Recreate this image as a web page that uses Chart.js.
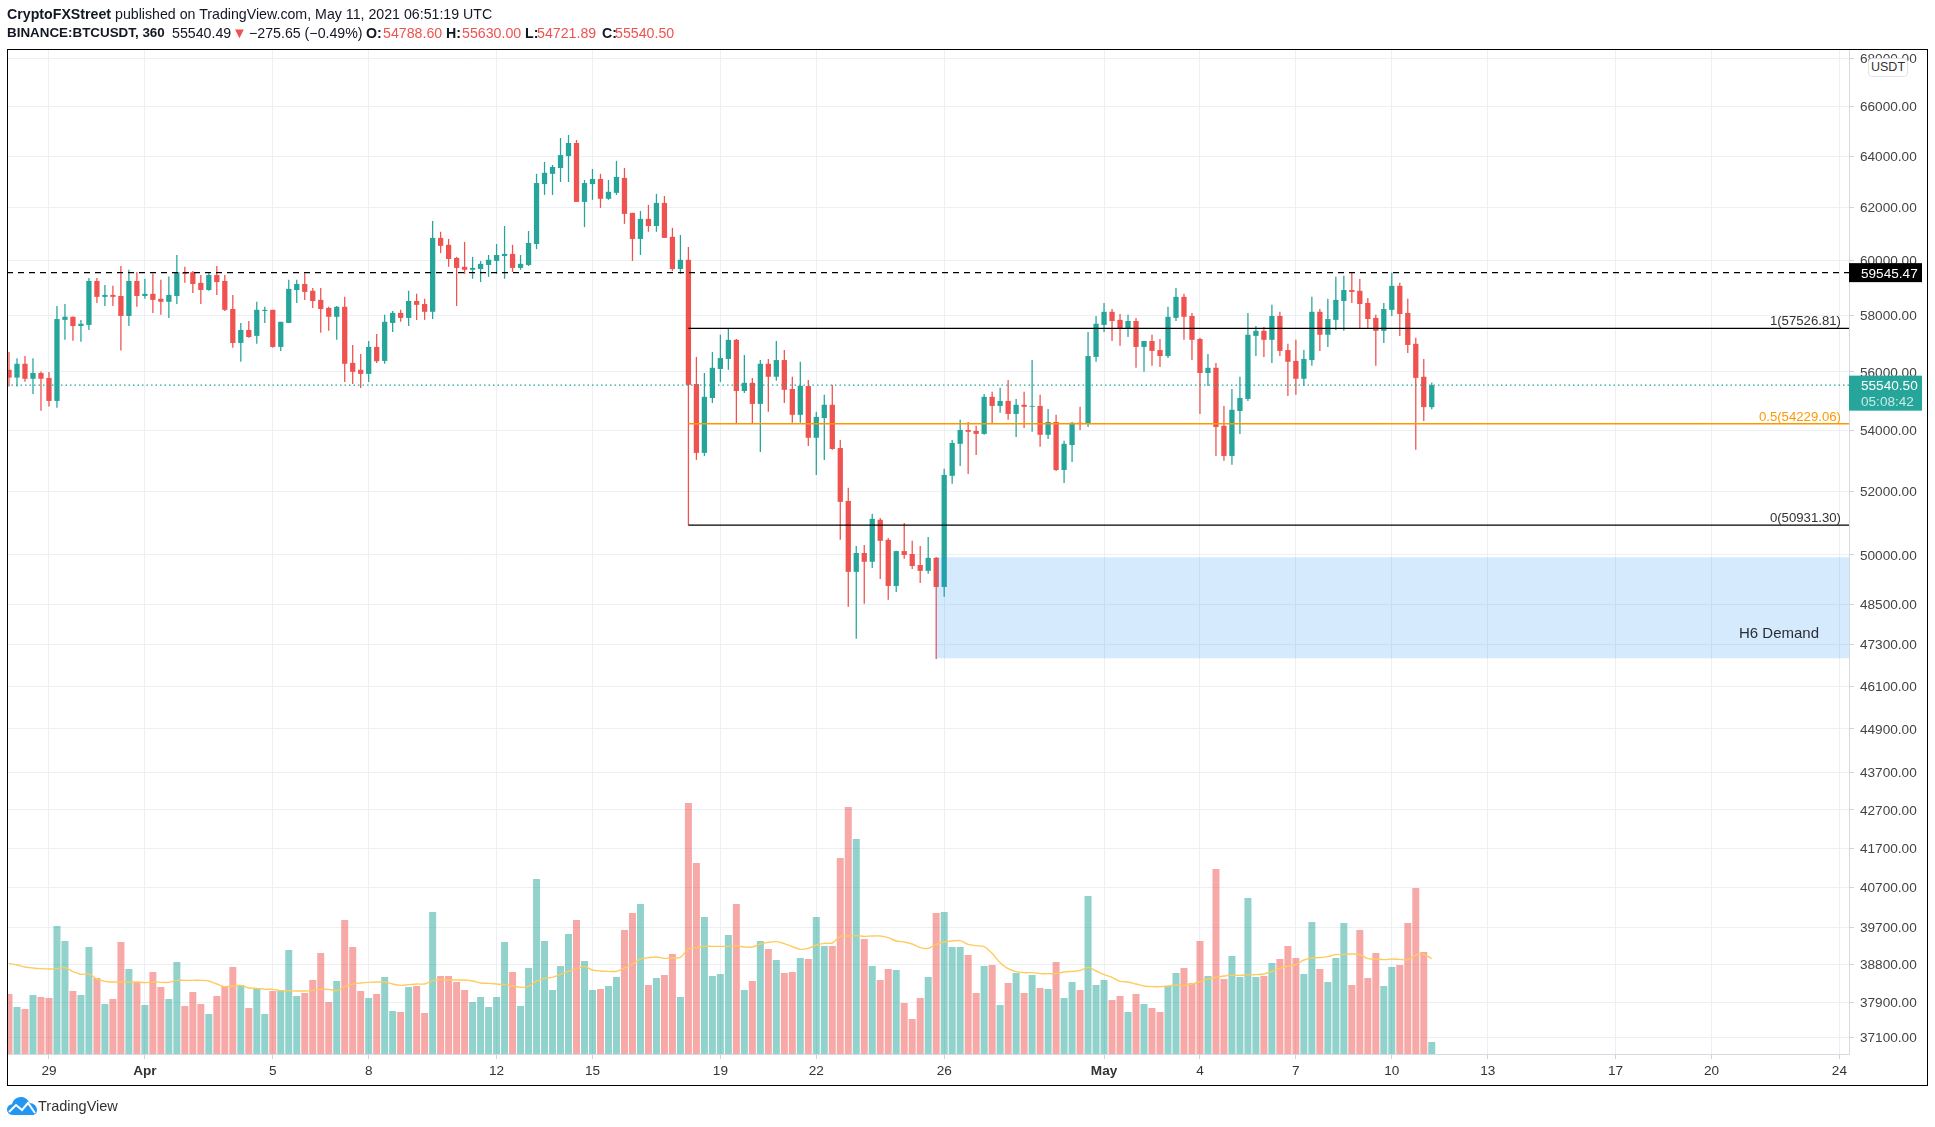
<!DOCTYPE html>
<html><head><meta charset="utf-8">
<style>
html,body{margin:0;padding:0;background:#fff;overflow:hidden}
#wrap{position:relative;width:1935px;height:1127px;font-family:"Liberation Sans",Arial,sans-serif;color:#131722}
canvas{position:absolute;left:0;top:0}
#frame{position:absolute;left:7px;top:49px;width:1921px;height:1037px;border:1px solid #000;box-sizing:border-box;pointer-events:none}
.hd{position:absolute;left:7px;font-size:14.2px;white-space:nowrap;line-height:16px}
.hd b{font-weight:700}
.s{position:absolute;top:0;white-space:nowrap}
.r{color:#ef5350}
#usdt{position:absolute;left:1868px;top:58px;width:40px;height:19px;background:#fff;border:1px solid #e0e3eb;border-radius:4px;box-sizing:border-box;font-size:12.5px;line-height:17px;text-align:center;color:#333}
#tv{position:absolute;left:38px;top:1098px;font-size:14.5px;line-height:16px;color:#333}
#logo{position:absolute;left:7px;top:1097px}
</style></head><body>
<div id="wrap">
<canvas id="c" width="1935" height="1127"></canvas>
<div id="frame"></div>
<div class="hd" style="top:6px"><b>CryptoFXStreet</b> published on TradingView.com, May 11, 2021 06:51:19 UTC</div>
<div class="hd" style="top:25px;height:16px;width:700px">
<b class="s" style="left:0;font-size:13.4px">BINANCE:BTCUSDT, 360</b>
<span class="s" style="left:165px">55540.49</span>
<span class="s r" style="left:225px;font-size:15px">▼</span>
<span class="s" style="left:242px">−275.65 (−0.49%)</span>
<b class="s" style="left:359px">O:</b><span class="s r" style="left:376px">54788.60</span>
<b class="s" style="left:439px">H:</b><span class="s r" style="left:455px">55630.00</span>
<b class="s" style="left:518px">L:</b><span class="s r" style="left:530px">54721.89</span>
<b class="s" style="left:595px">C:</b><span class="s r" style="left:608px">55540.50</span>
</div>
<div id="usdt">USDT</div>
<svg id="logo" width="30" height="18" viewBox="0 0 30 18"><path d="M6 18C2 18 0 15 0 12.500C0 9.500 2 7.500 5 7.200C6 3 9.500 0 14 0C18 0 21 2.500 22.500 6C26.500 6 30 9 30 13C30 16 28 18 25 18Z" fill="#2196f3"/><path d="M2 15L9 8L15 13L21 6L28 16" fill="none" stroke="#fff" stroke-width="2"/></svg>
<div id="tv">TradingView</div>
</div>
<script src="https://cdn.jsdelivr.net/npm/chart.js@4/dist/chart.umd.min.js"></script>
<script>
const opens=[56070,55800,56280,55760,55960,55790,55000,57830,57940,57610,
57650,59240,58660,58730,58690,57970,59240,58690,58770,58590,
58480,58690,59560,59560,59170,58910,59460,59240,58220,57010,
57470,57260,58150,58190,56870,57720,58910,59130,58880,58550,
58260,57940,58300,56310,56070,55930,56870,56380,57720,58080,
57900,58510,58400,58120,60840,60580,60090,59760,59650,59680,
59830,59980,60160,60240,59720,59830,60610,62900,63300,63530,
64000,64520,62210,62900,63100,62330,62560,63140,61790,60800,
61560,61290,62170,60880,59680,60020,55580,53260,55100,56100,
56450,57120,55340,55620,54900,56280,55830,56410,55410,54530,
55510,53760,54420,54870,53420,51700,49480,50060,49790,51100,
50470,49050,50120,50030,49690,49510,49910,49020,52510,53560,
54020,53990,53890,55140,54830,55000,54560,54870,54800,54830,
53860,54290,52700,53520,54260,54220,56520,57650,58120,57830,
57540,57790,56870,57080,56760,56550,57900,58660,57970,57150,
55960,56140,54160,53160,54660,55070,57260,57440,57120,57970,
56760,56380,55760,56410,58120,57300,57830,58510,58910,58880,
58440,57900,57440,58190,59060,58080,56980,55830,54788.6];
const highs=[56690,56470,56550,56470,56010,55990,58330,58400,57950,57830,
59350,59350,59090,59060,59790,59650,59570,59320,59510,59280,
59400,60200,59760,59610,59460,59520,59790,59460,58730,57720,
57790,58480,58300,58190,57760,59280,59280,59520,58980,58980,
58300,58330,58660,56940,56620,57080,57330,58010,58150,58190,
58880,58770,58590,61480,61070,60800,60130,60690,60130,59980,
60200,60610,61290,60580,60200,61100,63300,63770,63650,64720,
64840,64640,63060,63490,63300,63060,63810,63530,61790,61860,
62100,62520,62440,61220,60950,60500,56520,55960,56690,57300,
57530,57150,56590,55790,56410,56450,57080,56760,55830,56350,
55720,54630,55210,55550,53690,52120,50280,50310,51290,51160,
50530,50130,51000,50440,50280,50560,49940,52740,53690,54360,
54290,54160,55240,55310,55450,55720,55070,55310,56410,55210,
54730,54530,53660,54290,54800,57400,57970,58440,58220,58040,
58010,57900,57080,57300,57150,58300,58980,58770,58080,57190,
56620,56310,54830,55410,55830,58080,57610,57580,58370,58120,
56980,57120,56760,58660,58220,58590,59390,59430,59545,59310,
58620,58010,58440,59545,59170,58590,57190,56450,55630];
const lows=[55490,55490,55660,55240,54670,54810,54770,57120,57090,57050,
57470,58440,58330,58330,56740,57610,58300,58590,58080,58010,
57900,58400,59170,58800,58400,58880,58730,58150,56840,56350,
57190,56980,57720,56840,56730,57720,58440,58550,58260,57370,
57440,57120,55650,55580,55440,55650,56310,56280,57400,57760,
57610,57830,57830,57860,60270,59760,58330,59500,59320,59200,
59390,59500,59320,59570,59650,59790,60420,62480,62480,62980,
62980,62210,61250,62290,61980,62290,62480,61370,59980,60200,
61070,61070,60840,59610,59500,50930,53030,53160,54930,55650,
56070,54220,55270,54220,53290,54630,55690,54930,54260,54260,
53490,52540,53030,53360,50470,48420,47470,48510,49600,49260,
48630,48870,49880,49570,49140,49420,46880,48720,52250,52830,
52570,53190,53860,54220,54600,54360,53790,54090,53960,53460,
53720,52670,52280,52960,54020,54120,56350,57400,57080,56910,
57220,56140,56000,56210,56170,56480,57790,57120,56410,54560,
55510,53160,53000,52870,53890,55000,56550,56520,56310,56550,
55170,55210,55510,56210,56730,56870,57470,57440,58440,57540,
57540,56210,57010,57970,57260,56660,53360,54320,54721.89];
const closes=[55800,56280,55760,55960,55760,55000,57860,57940,57610,57690,
59240,58660,58730,58660,57970,59240,58690,58770,58550,58480,
58730,59560,59500,59130,58910,59460,59200,58190,57010,57470,
57220,58190,58190,56870,57760,58950,59130,58840,58510,58220,
57940,58300,56280,56000,55930,56870,56370,57760,58080,57900,
58510,58370,58120,60840,60540,60050,59720,59650,59720,59870,
60020,60200,60240,59720,59870,60650,62940,63340,63570,64040,
64520,62210,62940,63100,62330,62600,63180,61750,60800,61560,
61290,62170,60840,59680,60020,55550,53260,55140,56140,56480,
57120,55340,55620,54900,56280,55830,56410,55380,54530,55520,
53760,54460,54870,53390,51670,49480,50060,49790,51130,50440,
49050,50120,50000,49660,49510,49910,49020,52540,53590,54020,
53960,53890,55140,54830,55000,54560,54870,54800,54830,53860,
54290,52700,53560,54260,54220,56550,57690,58120,57790,57540,
57790,56870,57080,56730,56550,57940,58660,57940,57120,55960,
56140,54120,53160,54700,55100,57300,57440,57120,57970,56730,
56350,55760,56450,58120,57300,57860,58550,58910,58840,58400,
57860,57440,58220,59060,58040,56940,55790,54790,55540.5];
const volumes=[1800,1410,1350,1770,1710,1680,3840,3390,1890,1770,
3210,2280,1500,1650,3360,2550,2160,1470,2460,2010,
1650,2760,1440,1860,1500,1200,1740,2040,2610,2070,
1380,1980,1200,1890,1920,3120,1740,1830,2220,3030,
1560,2190,4020,3210,1890,1680,1800,2310,1290,1260,
2010,2040,1230,4260,2340,2340,2160,1920,1560,1710,
1410,1710,3360,2460,1440,2580,5250,3390,1920,2640,
3600,4020,2790,1920,1950,2040,2310,3720,4230,4500,
2070,2280,2370,3000,1710,7530,5730,4110,2340,2400,
3570,4500,1920,2190,3390,3150,2820,2430,2460,2880,
2850,4110,3240,3240,5880,7410,6450,3450,2640,2220,
2550,2520,1530,1050,1680,2310,4230,4260,3210,3210,
2970,1830,2640,2670,1470,2130,2430,1830,2370,1980,
1950,2760,1680,2160,1920,4740,2070,2220,1620,1740,
1260,1800,1500,1380,1260,2040,2430,2580,2130,3390,
2340,5550,2250,2940,2310,4680,2310,2340,2730,2850,
3240,2880,2400,3960,2550,2160,2880,3930,2070,3720,
2280,3030,2040,2610,2670,3930,4980,3060,360];
const volumeMA=[2720,2670,2610,2580,2560,2550,2560,2590,2470,2390,
2400,2250,2180,2160,2160,2160,2160,2140,2160,2150,
2150,2210,2210,2210,2210,2190,2100,2020,2040,2060,
1980,1970,1940,1940,1900,1900,1890,1890,1910,1940,
1940,1900,2020,2100,2130,2150,2160,2160,2100,2060,
2080,2100,2100,2200,2240,2220,2220,2220,2190,2130,
2120,2100,2080,2040,2000,2030,2190,2270,2300,2390,
2480,2560,2630,2520,2490,2480,2480,2580,2700,2850,
2890,2910,2870,2880,2900,3150,3190,3230,3230,3230,
3230,3240,3210,3210,3300,3350,3370,3310,3220,3140,
3170,3270,3320,3330,3530,3540,3550,3530,3540,3540,
3490,3390,3360,3300,3190,3170,3290,3360,3390,3400,
3290,3250,3220,3020,2740,2560,2470,2440,2440,2410,
2410,2410,2460,2480,2500,2600,2490,2380,2300,2180,
2160,2100,2040,2020,2020,2040,2070,2060,2100,2170,
2250,2300,2340,2360,2360,2380,2380,2400,2480,2570,
2640,2680,2820,2880,2890,2920,2980,2990,3000,2980,
2860,2850,2830,2850,2840,2830,2970,2990,2860];
const priceTicks=[68000,66000,64000,62000,60000,58000,56000,54000,52000,50000,48500,47300,46100,44900,43700,42700,41700,40700,39700,38800,37900,37100];
const dayTickBars=[0,12,28,40,56,68,84,96,112,132,144,156,168,180,196,208,224];
const dayTickLabels=['29','Apr','5','8','12','15','19','22','26','May','4','7','10','13','17','20','24'];
const boldDayLabels=['Apr','May'];
const firstBar=-5;
const xMin=-5.25, xMax=225.2, priceMin=36715, priceMax=68342, volumeMax=30120;
const highLevel=59545.47, lastPrice=55540.50, fibOne=57526.81, fibHalf=54229.06, fibZero=50931.30;
const fibStartBar=80, zoneStartBar=111, zoneTop=49930, zoneBottom=46904;
const countdown='05:08:42';
const UP='#26a69a', DOWN='#ef5350', UPV='rgba(38,166,154,.5)', DOWNV='rgba(239,83,80,.5)';
const FONT='"Liberation Sans",Arial,sans-serif';

const barX=opens.map((_,i)=>i+firstBar);
const isUp=opens.map((o,i)=>closes[i]>=o);
const hline=(v,from,opt)=>Object.assign({type:'line',yAxisID:'y',data:[{x:from,y:v},{x:xMax,y:v}],pointRadius:0,borderWidth:1.3,fill:false},opt);

const tagsPlugin={id:'tags',afterDraw(ch){
  const c=ch.ctx,y=ch.scales.y,a=ch.chartArea;
  const R=a.right;
  c.save();
  c.textBaseline='alphabetic';
  c.font='13.2px '+FONT;c.textAlign='right';
  c.fillStyle='#333';c.fillText('1('+fibOne.toFixed(2)+')',1841,y.getPixelForValue(fibOne)-3);
  c.fillText('0('+fibZero.toFixed(2)+')',1841,y.getPixelForValue(fibZero)-3);
  c.fillStyle='#ff9800';c.fillText('0.5('+fibHalf.toFixed(2)+')',1841,y.getPixelForValue(fibHalf)-3);
  c.fillStyle='#2a2e39';c.font='15px '+FONT;c.textAlign='left';
  c.fillText('H6 Demand',1739,638);
  c.font='13.6px '+FONT;c.textAlign='left';
  let p=y.getPixelForValue(highLevel);
  c.fillStyle='#000';c.fillRect(R,p-9.500,73,19);
  c.fillStyle='#fff';c.fillText(highLevel.toFixed(2),R+12,p+5);
  p=y.getPixelForValue(lastPrice);
  c.fillStyle=UP;c.fillRect(R,p-9.500,73,35);
  c.fillStyle='#fff';c.fillText(lastPrice.toFixed(2),R+12,p+5);
  c.fillStyle='rgba(255,255,255,.75)';c.fillText(countdown,R+12,p+21);
  c.restore();
}};

new Chart(document.getElementById('c'),{
  type:'bar',
  plugins:[tagsPlugin],
  data:{datasets:[
    {type:'bar',yAxisID:'y2',order:10,grouped:false,barPercentage:.875,categoryPercentage:1,
      data:barX.map((x,i)=>({x,y:volumes[i]})),backgroundColor:isUp.map(u=>u?UPV:DOWNV)},
    {type:'line',yAxisID:'y2',order:9,data:barX.map((x,i)=>({x,y:volumeMA[i]})),borderColor:'#ffcb5c',borderWidth:1.4,pointRadius:0,tension:.3,fill:false},
    {type:'bar',yAxisID:'y',order:7,grouped:false,barPercentage:.16,categoryPercentage:1,
      data:barX.map((x,i)=>({x,y:[lows[i],highs[i]]})),backgroundColor:isUp.map(u=>u?UP:DOWN)},
    {type:'bar',yAxisID:'y',order:6,grouped:false,barPercentage:.66,categoryPercentage:1,
      data:barX.map((x,i)=>({x,y:[opens[i],closes[i]]})),backgroundColor:isUp.map(u=>u?UP:DOWN)},
    hline(lastPrice,xMin,{order:5.500,borderColor:UP,borderDash:[1.500,3],borderWidth:1.2}),
    hline(zoneTop,zoneStartBar,{order:5,borderWidth:0,borderColor:'transparent',backgroundColor:'rgba(33,150,243,.19)',fill:{value:zoneBottom}}),
    hline(highLevel,xMin,{order:4,borderColor:'#000',borderDash:[6,5]}),
    hline(fibOne,fibStartBar,{order:3,borderColor:'#000'}),
    hline(fibHalf,fibStartBar,{order:2,borderColor:'#ff9800'}),
    hline(fibZero,fibStartBar,{order:1,borderColor:'#000'})
  ]},
  options:{
    responsive:false,animation:false,
    layout:{padding:{left:7,right:8,top:50,bottom:42}},
    plugins:{legend:{display:false},tooltip:{enabled:false},title:{display:false}},
    elements:{bar:{borderWidth:0}},
    scales:{
      x:{type:'linear',offset:false,min:xMin,max:xMax,
        afterBuildTicks:a=>{a.ticks=dayTickBars.map(v=>({value:v}));},
        afterFit:a=>{a.height=31;},
        grid:{offset:false,color:'#eceff3',lineWidth:1,drawTicks:true,tickLength:5,tickColor:'#d0d3da'},
        border:{display:true,color:'#d6d9e0',width:1},
        ticks:{autoSkip:false,maxRotation:0,padding:4,color:'#333',
          font:c=>({family:FONT,size:13.6,weight:boldDayLabels.includes(dayTickLabels[dayTickBars.indexOf(c.tick?c.tick.value:-1)])?'700':'400'}),
          callback:v=>{const k=dayTickBars.indexOf(v);return k<0?'':dayTickLabels[k];}}
      },
      y:{type:'logarithmic',position:'right',min:priceMin,max:priceMax,
        afterBuildTicks:a=>{a.ticks=priceTicks.map(v=>({value:v}));},
        afterFit:a=>{a.width=78;},
        grid:{color:'#eceff3',lineWidth:1,drawTicks:true,tickLength:5,tickColor:'#d0d3da'},
        border:{display:true,color:'#d6d9e0',width:1},
        ticks:{autoSkip:false,padding:6,labelOffset:1,color:'#444',font:{family:FONT,size:13.6},callback:v=>Number(v).toFixed(2)}
      },
      y2:{type:'linear',display:false,min:0,max:volumeMax}
    }
  }
});
</script>
</body></html>
